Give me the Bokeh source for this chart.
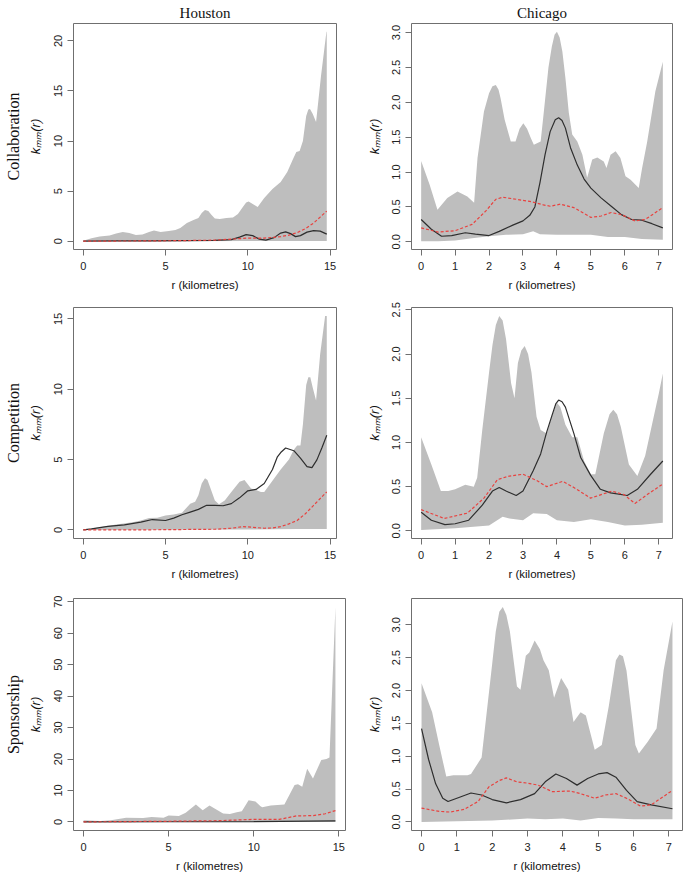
import math
from bokeh.plotting import figure
from bokeh.layouts import column, row
from bokeh.models import Range1d, FixedTicker, NumeralTickFormatter, LinearAxis, Title
from bokeh.embed import file_html
from bokeh.resources import INLINE

# ---------------- data (r, value) ----------------
CITIES = ["Houston", "Chicago"]
RELATIONS = ["Collaboration", "Competition", "Sponsorship"]
Y_LABEL = "k\u2098\u2098(r)"
X_LABEL = "r (kilometres)"

HOU_X_TICKS = [0, 5, 10, 15]
CHI_X_TICKS = [0, 1, 2, 3, 4, 5, 6, 7]
HOU_COLLAB_Y_TICKS = [0, 5, 10, 15, 20]
HOU_COMP_Y_TICKS = [0, 5, 10, 15]
HOU_SPONS_Y_TICKS = [0, 10, 20, 30, 40, 50, 60, 70]
CHI_COLLAB_Y_TICKS = [0.0, 0.5, 1.0, 1.5, 2.0, 2.5, 3.0]
CHI_COMP_Y_TICKS = [0.0, 0.5, 1.0, 1.5, 2.0, 2.5]
CHI_SPONS_Y_TICKS = [0.0, 0.5, 1.0, 1.5, 2.0, 2.5, 3.0]

# Houston - Collaboration
hou_collab_upper = [(0, 0.05), (0.5, 0.3), (1.0, 0.45), (1.6, 0.55), (2.0, 0.75), (2.4, 0.9), (2.8, 0.8),
                    (3.2, 0.6), (3.6, 0.65), (4.0, 0.9), (4.3, 1.05), (4.7, 0.9), (5.2, 1.0), (5.6, 1.1),
                    (5.9, 1.3), (6.3, 1.8), (6.7, 2.1), (7.0, 2.3), (7.2, 2.8), (7.4, 3.1), (7.6, 3.0),
                    (7.8, 2.6), (8.0, 2.25), (8.3, 2.2), (8.7, 2.3), (9.1, 2.35), (9.4, 2.7), (9.7, 3.4),
                    (9.9, 3.85), (10.05, 3.95), (10.3, 3.7), (10.6, 3.4), (11.0, 4.3), (11.5, 5.2), (12.0, 5.9),
                    (12.4, 6.9), (12.75, 8.2), (12.95, 8.9), (13.15, 9.0), (13.35, 10.0), (13.55, 12.5),
                    (13.68, 13.15), (13.78, 13.2), (13.95, 12.7), (14.15, 11.9), (14.45, 16.5), (14.78, 20.9),
                    (14.8, 20.9)]
hou_collab_lower = [(0, 0.0), (5, 0.0), (10, 0.02), (14.8, 0.02)]
hou_collab_obs = [(0, 0.0), (2, 0.02), (4, 0.03), (6, 0.05), (8, 0.08), (9, 0.15), (9.5, 0.4), (9.9, 0.65),
                  (10.3, 0.55), (10.7, 0.2), (11.1, 0.1), (11.6, 0.35), (12.0, 0.8), (12.3, 0.92),
                  (12.6, 0.75), (12.9, 0.45), (13.2, 0.55), (13.6, 0.9), (14.0, 1.05), (14.4, 1.0), (14.8, 0.7)]
hou_collab_theo = [(0, 0.0), (2, 0.01), (4, 0.02), (6, 0.05), (8, 0.1), (9, 0.2), (10, 0.3), (11, 0.3),
                   (12, 0.45), (12.5, 0.6), (13, 0.85), (13.5, 1.25), (14, 1.8), (14.4, 2.4), (14.8, 3.0)]

# Chicago - Collaboration
chi_collab_upper = [(0, 1.16), (0.25, 0.82), (0.48, 0.46), (0.77, 0.63), (1.07, 0.72), (1.36, 0.65),
                    (1.56, 0.56), (1.66, 1.2), (1.85, 1.87), (2.0, 2.13), (2.1, 2.23), (2.2, 2.25),
                    (2.28, 2.18), (2.34, 2.06), (2.46, 1.75), (2.64, 1.44), (2.78, 1.44), (2.9, 1.62),
                    (3.01, 1.70), (3.12, 1.62), (3.23, 1.49), (3.32, 1.39), (3.52, 1.44), (3.6, 1.8),
                    (3.75, 2.5), (3.85, 2.8), (3.93, 2.97), (4.0, 3.01), (4.08, 2.93), (4.16, 2.73),
                    (4.25, 2.35), (4.35, 1.85), (4.45, 1.54), (4.6, 1.44), (4.75, 1.25), (4.89, 0.92),
                    (5.04, 1.18), (5.19, 1.21), (5.38, 1.15), (5.46, 1.06), (5.58, 1.25), (5.73, 1.30),
                    (5.87, 1.2), (6.02, 0.94), (6.17, 0.89), (6.41, 0.77), (6.51, 1.06), (6.66, 1.44),
                    (6.9, 2.16), (7.12, 2.58)]
chi_collab_lower = [(0, 0.01), (0.5, 0.01), (1.0, 0.02), (1.5, 0.05), (2.0, 0.08), (2.5, 0.1), (3.0, 0.11),
                    (3.3, 0.15), (3.5, 0.11), (4.0, 0.1), (4.5, 0.1), (5.0, 0.1), (5.5, 0.07), (6.0, 0.07),
                    (6.5, 0.04), (7.12, 0.03)]
chi_collab_obs = [(0, 0.32), (0.3, 0.18), (0.6, 0.08), (0.9, 0.09), (1.3, 0.13), (1.6, 0.11), (2.0, 0.09),
                  (2.3, 0.15), (2.7, 0.24), (3.0, 0.3), (3.2, 0.38), (3.35, 0.5), (3.5, 0.85), (3.65, 1.25),
                  (3.8, 1.58), (3.95, 1.75), (4.05, 1.78), (4.15, 1.74), (4.25, 1.63), (4.4, 1.35), (4.6, 1.1),
                  (4.8, 0.9), (5.0, 0.77), (5.3, 0.63), (5.6, 0.51), (5.9, 0.39), (6.2, 0.32), (6.5, 0.31),
                  (6.8, 0.26), (7.12, 0.2)]
chi_collab_theo = [(0, 0.2), (0.5, 0.14), (1.0, 0.16), (1.5, 0.25), (1.9, 0.44), (2.2, 0.61), (2.4, 0.64),
                   (2.8, 0.61), (3.2, 0.58), (3.6, 0.53), (3.8, 0.51), (4.1, 0.54), (4.5, 0.49), (5.0, 0.35),
                   (5.3, 0.37), (5.6, 0.42), (5.9, 0.39), (6.3, 0.3), (6.6, 0.32), (7.12, 0.49)]

# Houston - Competition
hou_comp_upper = [(0, 0.0), (1, 0.2), (2, 0.38), (3, 0.55), (3.5, 0.67), (4, 0.84), (4.5, 0.86), (5, 1.03),
                  (5.5, 1.1), (6.0, 1.22), (6.5, 1.87), (6.8, 2.0), (7.0, 2.47), (7.2, 3.3), (7.4, 3.67),
                  (7.55, 3.55), (7.7, 3.07), (8.0, 2.1), (8.25, 1.82), (8.6, 2.1), (9.0, 2.7), (9.5, 3.43),
                  (9.8, 3.55), (10.2, 2.95), (10.5, 2.83), (10.8, 2.7), (11.0, 2.7), (11.5, 3.5), (12.0, 4.3),
                  (12.5, 5.0), (12.8, 5.7), (13.0, 6.0), (13.2, 6.0), (13.35, 7.5), (13.55, 10.3),
                  (13.68, 10.85), (13.8, 10.85), (13.95, 10.1), (14.15, 9.2), (14.4, 12.5), (14.7, 15.2),
                  (14.8, 15.2)]
hou_comp_lower = [(0, 0.0), (5, 0.01), (10, 0.03), (13, 0.07), (14.8, 0.07)]
hou_comp_obs = [(0, 0.0), (0.5, 0.07), (1.5, 0.26), (2.5, 0.36), (3.5, 0.55), (4.2, 0.74), (5.0, 0.67),
                (5.5, 0.84), (6.0, 1.08), (6.5, 1.27), (7.0, 1.46), (7.5, 1.75), (8.0, 1.75), (8.5, 1.72),
                (9.0, 1.87), (9.5, 2.28), (10.0, 2.78), (10.5, 2.88), (11.0, 3.3), (11.5, 4.3), (11.8, 5.2),
                (12.0, 5.5), (12.3, 5.82), (12.8, 5.63), (13.2, 5.1), (13.6, 4.5), (13.9, 4.43), (14.2, 4.98),
                (14.5, 5.82), (14.8, 6.73)]
hou_comp_theo = [(0, 0.0), (4, 0.01), (8, 0.05), (9.0, 0.12), (9.7, 0.24), (10.3, 0.19), (11.0, 0.12),
                 (11.5, 0.14), (12.0, 0.24), (12.5, 0.43), (13.0, 0.67), (13.5, 1.15), (14.0, 1.75),
                 (14.5, 2.35), (14.8, 2.7)]

# Chicago - Competition
chi_comp_upper = [(0, 1.06), (0.3, 0.75), (0.58, 0.45), (0.8, 0.45), (1.0, 0.47), (1.3, 0.52), (1.55, 0.5),
                  (1.65, 0.6), (1.8, 1.14), (2.0, 1.79), (2.1, 2.1), (2.2, 2.33), (2.3, 2.43), (2.4, 2.38),
                  (2.5, 2.17), (2.65, 1.67), (2.75, 1.5), (2.85, 1.9), (2.95, 2.04), (3.05, 2.09), (3.15, 2.0),
                  (3.25, 1.79), (3.4, 1.29), (3.52, 1.14), (3.7, 1.1), (3.85, 1.3), (4.0, 1.45), (4.1, 1.4),
                  (4.25, 1.2), (4.45, 1.06), (4.6, 1.06), (4.8, 0.79), (5.0, 0.64), (5.13, 0.64), (5.38, 1.1),
                  (5.55, 1.32), (5.66, 1.37), (5.77, 1.32), (5.88, 1.18), (6.12, 0.75), (6.37, 0.62),
                  (6.6, 0.85), (6.8, 1.2), (7.0, 1.55), (7.12, 1.78)]
chi_comp_lower = [(0, 0.01), (1.0, 0.03), (2.0, 0.06), (2.4, 0.16), (2.6, 0.14), (3.0, 0.12), (3.3, 0.2),
                  (3.7, 0.19), (4.0, 0.12), (4.5, 0.1), (5.0, 0.13), (5.5, 0.1), (6.0, 0.06), (6.5, 0.07),
                  (7.12, 0.09)]
chi_comp_obs = [(0, 0.21), (0.3, 0.12), (0.7, 0.07), (1.0, 0.08), (1.4, 0.12), (1.8, 0.29), (2.1, 0.45),
                (2.3, 0.49), (2.5, 0.45), (2.8, 0.4), (3.0, 0.45), (3.3, 0.68), (3.52, 0.87), (3.7, 1.12),
                (3.85, 1.3), (3.97, 1.44), (4.05, 1.48), (4.15, 1.46), (4.25, 1.40), (4.5, 1.1), (4.7, 0.83),
                (4.99, 0.63), (5.28, 0.47), (5.58, 0.43), (6.07, 0.4), (6.37, 0.47), (6.76, 0.64), (7.12, 0.79)]
chi_comp_theo = [(0, 0.24), (0.68, 0.14), (1.36, 0.2), (1.85, 0.37), (2.25, 0.58), (2.6, 0.62), (3.0, 0.64),
                 (3.4, 0.57), (3.7, 0.5), (4.17, 0.56), (4.5, 0.49), (4.99, 0.37), (5.62, 0.45), (5.97, 0.41),
                 (6.3, 0.31), (6.66, 0.41), (7.12, 0.53)]

# Houston - Sponsorship
hou_spons_upper = [(0, 0.5), (1, 0.3), (1.6, 0.5), (2.5, 1.35), (3.5, 1.25), (4.0, 1.55), (4.7, 1.35),
                   (5.0, 2.07), (5.6, 1.87), (6.0, 2.9), (6.6, 5.5), (7.0, 3.73), (7.4, 5.2), (7.8, 3.94),
                   (8.2, 2.7), (8.6, 2.5), (9.0, 3.1), (9.3, 3.4), (9.7, 6.85), (10.1, 6.5), (10.4, 5.0),
                   (10.5, 4.67), (11.0, 5.2), (11.8, 5.5), (12.1, 8.6), (12.4, 11.7), (12.6, 12.0),
                   (12.85, 11.2), (13.14, 16.9), (13.48, 13.8), (13.97, 19.7), (14.27, 20.0), (14.45, 20.5),
                   (14.8, 68.3)]
hou_spons_lower = [(0, 0.0), (14.8, 0.0)]
hou_spons_obs = [(0, 0.0), (5, 0.05), (10, 0.1), (14.8, 0.3)]
hou_spons_theo = [(0, 0.0), (5, 0.2), (8, 0.4), (10, 0.8), (11.5, 0.8), (12.5, 1.9), (13.5, 2.0), (14.2, 2.6),
                  (14.8, 3.6)]

# Chicago - Sponsorship
chi_spons_upper = [(0, 2.11), (0.3, 1.67), (0.5, 1.17), (0.7, 0.69), (0.9, 0.71), (1.3, 0.71), (1.4, 0.73),
                   (1.7, 0.98), (2.0, 2.41), (2.1, 2.9), (2.2, 3.2), (2.3, 3.27), (2.4, 3.15), (2.5, 2.9),
                   (2.7, 2.06), (2.8, 2.01), (2.95, 2.53), (3.05, 2.58), (3.2, 2.76), (3.35, 2.63), (3.45, 2.46),
                   (3.6, 2.31), (3.75, 1.89), (3.95, 2.19), (4.15, 2.01), (4.3, 1.52), (4.5, 1.67), (4.65, 1.62),
                   (4.9, 1.1), (5.1, 1.17), (5.3, 1.77), (5.5, 2.46), (5.6, 2.55), (5.7, 2.52), (5.8, 2.3),
                   (6.05, 1.17), (6.15, 1.04), (6.4, 1.22), (6.65, 1.42), (6.85, 2.31), (7.1, 3.05)]
chi_spons_lower = [(0, 0.0), (1, 0.01), (2, 0.02), (3, 0.05), (3.5, 0.04), (4.0, 0.05), (4.5, 0.02),
                   (5.0, 0.06), (5.5, 0.05), (6.0, 0.04), (7.1, 0.04)]
chi_spons_obs = [(0, 1.42), (0.2, 0.95), (0.4, 0.58), (0.6, 0.36), (0.75, 0.31), (1.0, 0.36), (1.4, 0.44),
                 (1.7, 0.41), (2.0, 0.34), (2.4, 0.29), (2.8, 0.34), (3.2, 0.43), (3.5, 0.61), (3.8, 0.73),
                 (4.1, 0.66), (4.4, 0.56), (4.7, 0.66), (5.0, 0.73), (5.25, 0.75), (5.5, 0.68), (5.8, 0.48),
                 (6.1, 0.31), (6.5, 0.26), (7.1, 0.2)]
chi_spons_theo = [(0, 0.21), (0.5, 0.16), (0.8, 0.15), (1.2, 0.19), (1.6, 0.31), (1.9, 0.53), (2.2, 0.63),
                  (2.4, 0.67), (2.7, 0.61), (3.0, 0.59), (3.3, 0.56), (3.7, 0.46), (4.2, 0.47), (4.5, 0.43),
                  (4.9, 0.36), (5.2, 0.41), (5.5, 0.43), (5.8, 0.36), (6.2, 0.24), (6.5, 0.26), (7.1, 0.48)]

# ---------------- styling ----------------
GREY = "#bebebe"
BLACK = "#2e2e2e"
RED = "#e8423f"
AXC = "#6f6f6f"
SANS = "Liberation Sans"
SERIF = "Liberation Serif"


def split(pairs):
    return [a for a, _ in pairs], [b for _, b in pairs]


def panel(upper, lower, obs, theo, xticks, yticks, yfmt, fw, fh, bl, br, bt, bb,
          ylab_standoff, title=None, rowlab=None):
    ux, uy = split(upper)
    lx, ly = split(lower)
    ox, oy = split(obs)
    tx, ty = split(theo)
    allx = ux + lx + ox + tx
    ally = uy + ly + oy + ty
    x0, x1 = min(allx), max(allx)
    y0, y1 = min(ally), max(ally)
    px, py = 0.04 * (x1 - x0), 0.04 * (y1 - y0)
    p = figure(frame_width=fw, frame_height=fh,
               min_border_left=bl, min_border_right=br, min_border_top=bt, min_border_bottom=bb,
               x_range=Range1d(x0 - px, x1 + px), y_range=Range1d(y0 - py, y1 + py),
               output_backend="svg", toolbar_location=None, tools="")
    p.patch(ux + lx[::-1], uy + ly[::-1], fill_color=GREY, line_color=None)
    p.line(ox, oy, line_color=BLACK, line_width=1.2)
    p.line(tx, ty, line_color=RED, line_width=1.2, line_dash="3 2")

    p.xgrid.visible = False
    p.ygrid.visible = False
    p.outline_line_color = AXC
    p.outline_line_width = 1
    p.background_fill_color = "white"
    p.border_fill_color = "white"
    for ax in (p.xaxis[0], p.yaxis[0]):
        ax.axis_line_color = None
        ax.major_tick_line_color = AXC
        ax.major_tick_out = 6
        ax.major_tick_in = 0
        ax.minor_tick_line_color = None
        ax.major_label_text_font = SANS
        ax.major_label_text_font_size = "11px"
        ax.major_label_text_color = "#222222"
        ax.axis_label_text_font = SANS
        ax.axis_label_text_color = "#111111"
    p.xaxis.ticker = FixedTicker(ticks=xticks)
    p.yaxis.ticker = FixedTicker(ticks=yticks)
    p.xaxis.formatter = NumeralTickFormatter(format="0")
    p.yaxis.formatter = NumeralTickFormatter(format=yfmt)
    p.xaxis.major_label_standoff = 6
    p.yaxis.major_label_standoff = 5
    p.yaxis.major_label_orientation = "vertical"

    p.yaxis.axis_label = Y_LABEL
    p.yaxis.axis_label_text_font_style = "italic"
    p.yaxis.axis_label_text_font_size = "13px"
    p.yaxis.axis_label_standoff = ylab_standoff
    p.xaxis.axis_label = X_LABEL
    p.xaxis.axis_label_text_font_style = "normal"
    p.xaxis.axis_label_text_font_size = "11.5px"
    p.xaxis.axis_label_standoff = 6

    if title:
        t = Title(text=title, align="center", text_font=SERIF, text_font_size="15px",
                  text_font_style="normal", text_color="#111111", standoff=5, offset=0)
        p.title = t
    if rowlab:
        ax = LinearAxis(ticker=FixedTicker(ticks=[]), axis_label=rowlab)
        ax.axis_line_color = None
        ax.major_tick_out = 0
        ax.major_tick_in = 0
        ax.minor_tick_out = 0
        ax.minor_tick_in = 0
        ax.major_label_standoff = 0
        ax.axis_label_standoff = 3
        ax.axis_label_text_font = SERIF
        ax.axis_label_text_font_size = "16px"
        ax.axis_label_text_font_style = "normal"
        ax.axis_label_text_color = "#111111"
        p.add_layout(ax, "left")
    return p


p11 = panel(hou_collab_upper, hou_collab_lower, hou_collab_obs, hou_collab_theo, HOU_X_TICKS,
            HOU_COLLAB_Y_TICKS, "0", 263, 226, 73, 6, 22, 46, 9, title=CITIES[0], rowlab=RELATIONS[0])
p12 = panel(chi_collab_upper, chi_collab_lower, chi_collab_obs, chi_collab_theo, CHI_X_TICKS,
            CHI_COLLAB_Y_TICKS, "0.0", 261, 226, 69, 12, 22, 46, 8, title=CITIES[1])
p21 = panel(hou_comp_upper, hou_comp_lower, hou_comp_obs, hou_comp_theo, HOU_X_TICKS,
            HOU_COMP_Y_TICKS, "0", 263, 231, 73, 6, 12, 46, 9, rowlab=RELATIONS[1])
p22 = panel(chi_comp_upper, chi_comp_lower, chi_comp_obs, chi_comp_theo, CHI_X_TICKS,
            CHI_COMP_Y_TICKS, "0.0", 261, 231, 69, 12, 12, 46, 8)
p31 = panel(hou_spons_upper, hou_spons_lower, hou_spons_obs, hou_spons_theo, HOU_X_TICKS,
            HOU_SPONS_Y_TICKS, "0", 272, 232, 73, 2, 14, 46, 9, rowlab=RELATIONS[2])
p32 = panel(chi_spons_upper, chi_spons_lower, chi_spons_obs, chi_spons_theo, CHI_X_TICKS,
            CHI_SPONS_Y_TICKS, "0.0", 271, 232, 64, 2, 14, 46, 8)

layout = column(row(p11, p12), row(p21, p22), row(p31, p32))
open("out.html", "w").write(file_html(layout, INLINE))
